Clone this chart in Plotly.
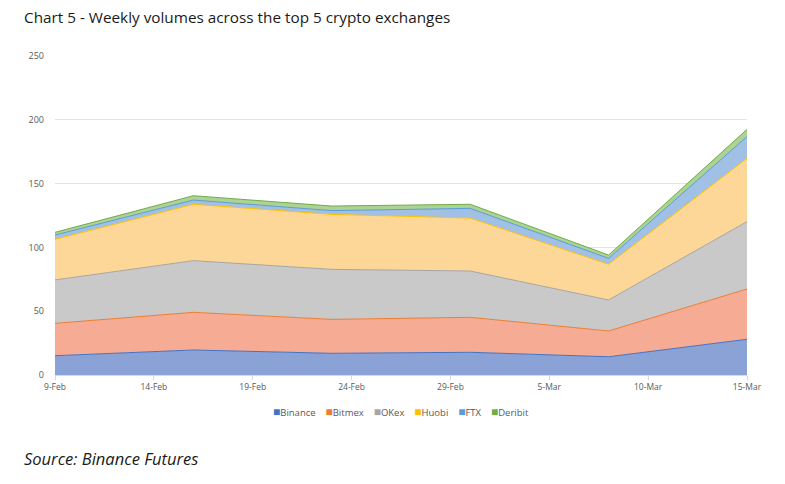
import plotly.graph_objects as go

dates = ["2020-02-09", "2020-02-16", "2020-02-23", "2020-03-01", "2020-03-08", "2020-03-15"]
binance = [15.1, 19.6, 17.0, 17.8, 14.3, 28.0]
bitmex = [25.4, 29.5, 26.6, 27.4, 20.2, 39.4]
okex = [34.0, 40.5, 39.2, 36.3, 24.3, 52.8]
huobi = [31.8, 44.2, 43.1, 41.5, 28.0, 49.6]
ftx = [3.4, 3.3, 2.9, 7.6, 4.6, 17.0]
deribit = [2.1, 3.4, 3.6, 3.2, 2.6, 5.7]

series = [
    ("Binance", binance, "#4472C4", "rgba(132,157,212,0.95)"),
    ("Bitmex", bitmex, "#ED7D31", "rgba(246,168,142,0.95)"),
    ("OKex", okex, "#A5A5A5", "rgba(198,198,198,0.95)"),
    ("Huobi", huobi, "#FFC000", "rgba(253,213,145,0.95)"),
    ("FTX", ftx, "#5B9BD5", "rgba(155,190,228,0.95)"),
    ("Deribit", deribit, "#70AD47", "rgba(168,208,142,0.95)"),
]

fig = go.Figure()
for name, vals, line, fill in series:
    fig.add_trace(go.Scatter(
        x=dates, y=vals, name=name, mode="lines", stackgroup="one",
        line=dict(color=line, width=1), fillcolor=fill, showlegend=False,
    ))

legend_text = "&nbsp;&nbsp;&nbsp;&nbsp;".join(
    f'<span style="color:{line};font-size:12px">■</span>{name}' for name, _, line, _ in series
)

fig.update_layout(
    width=785, height=484,
    margin=dict(l=55, r=38, t=56, b=109),
    paper_bgcolor="white", plot_bgcolor="white",
    font=dict(family="Open Sans, sans-serif", color="#595959", size=9),
    showlegend=False,
    xaxis=dict(
        type="date", range=["2020-02-09", "2020-03-15"],
        tick0="2020-02-09", dtick=5 * 86400000, tickformat="%-d-%b",
        showgrid=False, showline=True, linecolor="#d9d9d9", linewidth=1,
        ticks="outside", ticklen=4, tickcolor="#d9d9d9",
        tickfont=dict(size=8.5, color="#595959"),
    ),
    yaxis=dict(
        range=[0, 250], dtick=50, showgrid=True, gridcolor="#e3e3e3", gridwidth=1,
        zeroline=False, showline=False, ticks="", ticklabelstandoff=10,
        tickfont=dict(size=9, color="#595959"),
    ),
    annotations=[
        dict(text="Chart 5 - Weekly volumes across the top 5 crypto exchanges",
             xref="paper", yref="paper", x=-33/692, y=1 + 39/319, xanchor="left", yanchor="middle",
             showarrow=False, font=dict(family="Open Sans, sans-serif", size=15.3, color="#1a1a1a")),
        dict(text="<i>Source: Binance Futures</i>",
             xref="paper", yref="paper", x=-33/692, y=-83/319, xanchor="left", yanchor="middle",
             showarrow=False, font=dict(family="Open Sans, sans-serif", size=16.5, color="#1a1a1a")),
        dict(text=legend_text,
             xref="paper", yref="paper", x=(401 - 55) / 692, y=-36/319, xanchor="center", yanchor="middle",
             showarrow=False, font=dict(family="Open Sans, sans-serif", size=9.5, color="#595959")),
    ],
)

fig.write_html("out.html")
